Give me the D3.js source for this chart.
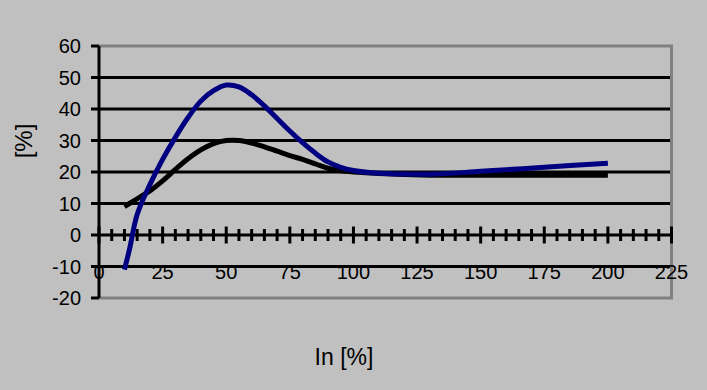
<!DOCTYPE html>
<html>
<head>
<meta charset="utf-8">
<script src="https://d3js.org/d3.v7.min.js"></script>
<style>
    body { margin: 0; background: #c0c0c0; }
    text { font-family: "Liberation Sans", Arial, sans-serif; fill: black; }
</style>
</head>
<body>
<script>
    var width = 707, height = 390;
    var margin = {top: 46, right: 35.5, bottom: 92, left: 99};

    // values
    let xValues     = [10, 12, 15, 20, 25, 30, 35, 40, 45, 50, 55, 60, 65, 70, 75, 80, 85, 90, 95, 100, 110, 130, 150, 175, 200];
    let blueValues  = [-11, -4.5, 6.5, 16, 24, 31, 37.3, 42.5, 45.8, 47.6, 47, 44.5, 41, 37, 33, 29.3, 26, 23.2, 21.5, 20.5, 19.6, 19.3, 20.2, 21.5, 22.8];
    let blackValues = [9, 10, 11.5, 14, 17.2, 20.8, 24.2, 27, 29, 30, 30, 29.2, 28, 26.6, 25.2, 24, 22.6, 21.2, 20.4, 20, 19.5, 19, 19, 19, 19];
    let xTicks = [0, 25, 50, 75, 100, 125, 150, 175, 200, 225];
    let yTicks = [-20, -10, 0, 10, 20, 30, 40, 50, 60];

    let svg = d3.select("body").append("svg")
        .attr("width", width)
        .attr("height", height);

    svg.append("rect")
        .attr("width", width)
        .attr("height", height)
        .attr("fill", "#c0c0c0");

    let x = d3.scaleLinear().domain([0, 225]).range([margin.left, width - margin.right]);
    let y = d3.scaleLinear().domain([-20, 60]).range([height - margin.bottom, margin.top]);

    // gridlines
    yTicks.filter(t => t != -20 && t != 60 && t != 0).forEach(t =>
        svg.append("line")
            .attr("x1", x(0)).attr("x2", x(225))
            .attr("y1", y(t)).attr("y2", y(t))
            .attr("stroke", "black")
            .attr("stroke-width", 3)
    );

    // plot border (grey)
    svg.append("path")
        .attr("d", "M" + x(0) + "," + y(60) + "H" + x(225) + "V" + y(-20) + "H" + x(0))
        .attr("fill", "none")
        .attr("stroke", "#808080")
        .attr("stroke-width", 3);

    // y axis
    svg.append("line")
        .attr("x1", x(0)).attr("x2", x(0))
        .attr("y1", y(60)).attr("y2", y(-20))
        .attr("stroke", "black").attr("stroke-width", 3);

    yTicks.forEach(t => {
        svg.append("line")
            .attr("x1", x(0) - 8).attr("x2", x(0))
            .attr("y1", y(t)).attr("y2", y(t))
            .attr("stroke", "black").attr("stroke-width", 3);
        svg.append("text")
            .attr("x", 81)
            .attr("y", y(t))
            .attr("dy", "0.35em")
            .attr("text-anchor", "end")
            .style("font-size", "20px")
            .text(t);
    });

    // x axis on the 0 line
    svg.append("line")
        .attr("x1", x(0)).attr("x2", x(225))
        .attr("y1", y(0)).attr("y2", y(0))
        .attr("stroke", "black").attr("stroke-width", 3);

    d3.range(0, 226, 5).forEach(t => {
        let big = t % 25 == 0;
        svg.append("line")
            .attr("x1", x(t)).attr("x2", x(t))
            .attr("y1", y(0) - (big ? 8.5 : 6)).attr("y2", y(0) + (big ? 8.5 : 6))
            .attr("stroke", "black").attr("stroke-width", 3);
    });

    xTicks.forEach(t =>
        svg.append("text")
            .attr("x", x(t))
            .attr("y", 279)
            .attr("text-anchor", "middle")
            .style("font-size", "20px")
            .text(t)
    );

    // series
    let line = d3.line()
        .x((d, i) => x(xValues[i]))
        .y(d => y(d))
        .curve(d3.curveCatmullRom);

    svg.append("path")
        .datum(blackValues)
        .attr("d", line)
        .attr("fill", "none")
        .attr("stroke", "black")
        .attr("stroke-width", 5);

    svg.append("path")
        .datum(blueValues)
        .attr("d", line)
        .attr("fill", "none")
        .attr("stroke", "#000080")
        .attr("stroke-width", 5);

    // axis titles
    svg.append("text")
        .attr("x", 344)
        .attr("y", 365)
        .attr("text-anchor", "middle")
        .style("font-size", "23px")
        .text("In [%]");

    svg.append("text")
        .attr("transform", "translate(32,141) rotate(-90)")
        .attr("text-anchor", "middle")
        .style("font-size", "24px")
        .text("[%]");
</script>
</body>
</html>
